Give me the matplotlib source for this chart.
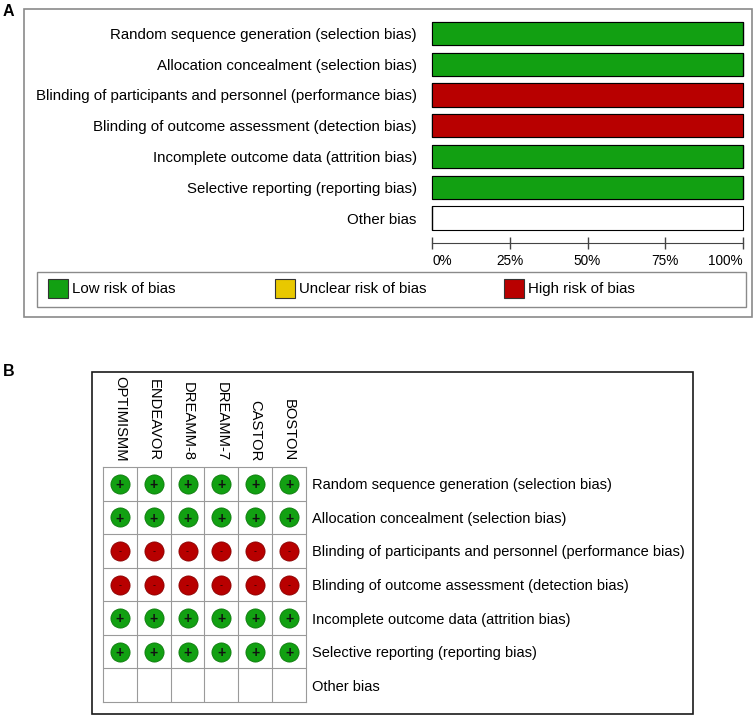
import matplotlib
matplotlib.use("Agg")
import matplotlib.pyplot as plt
from matplotlib.patches import Rectangle
from matplotlib.transforms import offset_copy

plt.rcParams["font.family"] = ["Liberation Sans", "DejaVu Sans"]

# risk of bias domains (same order in both panels)
domains = [
    "Random sequence generation (selection bias)",
    "Allocation concealment (selection bias)",
    "Blinding of participants and personnel (performance bias)",
    "Blinding of outcome assessment (detection bias)",
    "Incomplete outcome data (attrition bias)",
    "Selective reporting (reporting bias)",
    "Other bias",
]

# panel A: percentage of studies per judgement
low_pct = [100, 100, 0, 0, 100, 100, 0]
unclear_pct = [0, 0, 0, 0, 0, 0, 0]
high_pct = [0, 0, 100, 100, 0, 0, 0]

# panel B: per-study judgements ("+" low, "-" high, "" not assessed)
studies = ["OPTIMISMM", "ENDEAVOR", "DREAMM-8", "DREAMM-7", "CASTOR", "BOSTON"]
judgements = [
    ["+", "+", "+", "+", "+", "+"],
    ["+", "+", "+", "+", "+", "+"],
    ["-", "-", "-", "-", "-", "-"],
    ["-", "-", "-", "-", "-", "-"],
    ["+", "+", "+", "+", "+", "+"],
    ["+", "+", "+", "+", "+", "+"],
    ["", "", "", "", "", ""],
]

legend_labels = ["Low risk of bias", "Unclear risk of bias", "High risk of bias"]

GREEN = "#12a012"
YELLOW = "#e8c800"
RED = "#b80000"

W, H = 754, 715


def box(x0, y0, x1, y1):
    # pixel box (top-left origin) -> figure fraction rect
    return [x0 / W, 1 - y1 / H, (x1 - x0) / W, (y1 - y0) / H]


fig = plt.figure(figsize=(W / 100, H / 100), dpi=100)

# ---------------- panel A ----------------
fig.patches.append(Rectangle((24 / W, 1 - 317 / H), (752 - 24) / W, (317 - 9) / H,
                             transform=fig.transFigure, fill=False, ec="#8a8a8a", lw=1.2))
fig.text(3 / W, 1 - 4 / H, "A", fontsize=11.5, fontweight="bold", va="top", ha="left")

ax_a = fig.add_axes(box(432, 18.1, 743, 233.4))
rows = list(range(len(domains)))
ax_a.barh(rows, [100] * len(rows), height=0.75, color="white", edgecolor="black", lw=0.8, clip_on=False)
left = [0] * len(rows)
for vals, col in [(low_pct, GREEN), (unclear_pct, YELLOW), (high_pct, RED)]:
    ax_a.barh(rows, vals, left=left, height=0.75, color=col, edgecolor="black", lw=0.8, clip_on=False)
    left = [l + v for l, v in zip(left, vals)]
ax_a.set_xlim(0, 100)
ax_a.set_ylim(len(rows) - 0.5, -0.5)
ax_a.set_yticks(rows)
ax_a.set_yticklabels(domains, fontsize=10.8)
ax_a.tick_params(axis="y", length=0, pad=11)
for s in ["top", "right", "left"]:
    ax_a.spines[s].set_visible(False)
ax_a.spines["bottom"].set_position(("outward", 7))
ax_a.spines["bottom"].set_color("#444444")
ax_a.set_xticks([0, 25, 50, 75, 100])
ax_a.set_xticklabels(["0%", "25%", "50%", "75%", "100%"], fontsize=9.8)
ax_a.tick_params(axis="x", direction="inout", length=8, width=1, color="#444444", pad=4)
xlabels = ax_a.get_xticklabels()
xlabels[0].set_ha("left")
xlabels[-1].set_ha("right")

# legend box
fig.patches.append(Rectangle((37 / W, 1 - 307 / H), (746 - 37) / W, (307 - 272) / H,
                             transform=fig.transFigure, fill=False, ec="#8a8a8a", lw=1))
for label, col, x0 in zip(legend_labels, [GREEN, YELLOW, RED], [48, 275, 504]):
    fig.patches.append(Rectangle((x0 / W, 1 - 298 / H), 20 / W, 19 / H,
                                 transform=fig.transFigure, fc=col, ec="#333333", lw=0.8))
    fig.text((x0 + 24) / W, 1 - 289 / H, label, fontsize=10.8, va="center", ha="left")

# ---------------- panel B ----------------
fig.patches.append(Rectangle((92 / W, 1 - 714 / H), (693 - 92) / W, (714 - 372) / H,
                             transform=fig.transFigure, fill=False, ec="#1a1a1a", lw=1.2))
fig.text(3 / W, 1 - 364 / H, "B", fontsize=11.5, fontweight="bold", va="top", ha="left")

ax_b = fig.add_axes(box(103, 467, 306, 702))
ax_b.set_xlim(-0.5, len(studies) - 0.5)
ax_b.set_ylim(len(domains) - 0.5, -0.5)
for i in range(len(studies) - 1):
    ax_b.axvline(i + 0.5, color="#9a9a9a", lw=0.8)
for i in range(len(domains) - 1):
    ax_b.axhline(i + 0.5, color="#9a9a9a", lw=0.8)
for s in ax_b.spines.values():
    s.set_color("#9a9a9a")
    s.set_linewidth(0.8)

# symbol text sits a touch low so the glyph looks centred in the circle
sym_tr = offset_copy(ax_b.transData, fig=fig, x=0, y=-1.2, units="dots")
for i, row in enumerate(judgements):
    for j, mark in enumerate(row):
        if mark == "+":
            ax_b.scatter(j, i, s=190, color=GREEN, edgecolor="#0c7a0c", lw=0.6, zorder=3)
            ax_b.text(j, i, "+", fontsize=10, fontweight="bold", ha="center", va="center",
                      color="#111111", zorder=4, transform=sym_tr)
        elif mark == "-":
            ax_b.scatter(j, i, s=190, color=RED, edgecolor="#8a0000", lw=0.6, zorder=3)
            ax_b.text(j, i, "-", fontsize=6.5, ha="center", va="center", color="#2a0000",
                      zorder=4, transform=sym_tr)

ax_b.yaxis.tick_right()
ax_b.set_yticks(range(len(domains)))
ax_b.set_yticklabels(domains, fontsize=10.5)
ax_b.tick_params(axis="y", length=0, pad=4.5)
ax_b.xaxis.tick_top()
ax_b.set_xticks(range(len(studies)))
ax_b.set_xticklabels(studies, fontsize=10.6, rotation=-90)
ax_b.tick_params(axis="x", length=0, pad=4)

fig.savefig("out.png", dpi=100)
